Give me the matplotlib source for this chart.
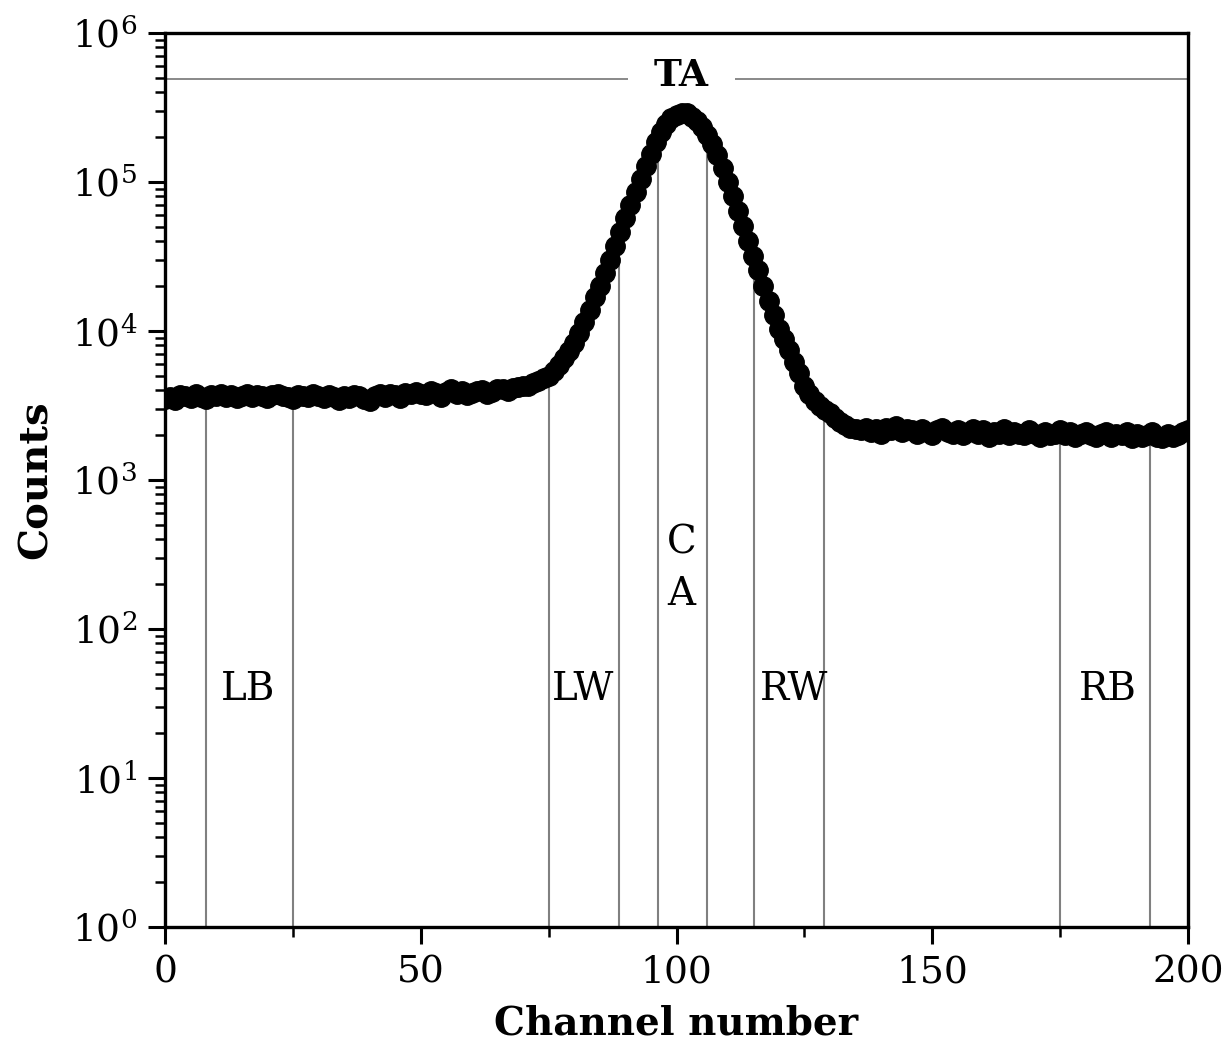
import matplotlib
matplotlib.use('Agg')
import matplotlib.pyplot as plt
from matplotlib.ticker import LogLocator, MultipleLocator
import numpy as np

# spectrum: counts per channel (0..200)
channels = np.arange(0, 201)
counts = [
    3500, 3600, 3450, 3700, 3650, 3550, 3750, 3600, 3500, 3700,
    3650, 3800, 3600, 3700, 3550, 3650, 3750, 3600, 3700, 3650,
    3550, 3700, 3800, 3650, 3600, 3500, 3700, 3650, 3600, 3750,
    3650, 3550, 3700, 3600, 3450, 3650, 3550, 3700, 3650, 3500,
    3400, 3650, 3750, 3600, 3800, 3700, 3550, 3850, 3750, 3900,
    3800, 3700, 3950, 3850, 3600, 3900, 4050, 3800, 3950, 3700,
    3850, 3950, 4000, 3800, 3900, 4050, 4100, 3950, 4150, 4200,
    4300, 4250, 4500, 4600, 4800, 5000, 5400, 5900, 6600, 7300,
    8300, 9700, 11500, 13800, 16800, 20000, 24500, 30000, 37000, 46000,
    57000, 70000, 86000, 105000, 128000, 155000, 185000, 215000, 245000, 268000,
    282000, 292000, 289000, 275000, 258000, 235000, 208000, 180000, 152000, 125000,
    100000, 80000, 64000, 51000, 40000, 32000, 25500, 20000, 16000, 12800,
    10300, 8800, 7400, 6200, 5200, 4300, 3800, 3400, 3150, 2950,
    2800, 2600, 2450, 2350, 2250, 2200,
    2150, 2250, 2100, 2200, 2050, 2250, 2150, 2300, 2100, 2200,
    2150, 2050, 2200, 2100, 2000, 2150, 2250, 2100, 2050, 2150,
    2000, 2100, 2200, 2050, 2150, 1950, 2100, 2050, 2200, 2000,
    2100, 2050, 2000, 2150, 2050, 1950, 2100, 2000, 2050, 2150,
    2000, 2100, 1950, 2050, 2100, 2000, 1950, 2050, 2100, 1950,
    2050, 2000, 2100, 1900, 2050, 1950, 2000, 2100, 1950, 1900,
    2050, 1950, 2000, 2100, 2150,
]

# window boundaries (channels)
boundaries = [8, 25, 75, 88.8, 96.3, 106, 115.2, 128.8, 175, 192.6]
ta_level = 4.9e5
ta_gap = (90.5, 111.4)

# region labels: text, x, y
labels = ['LB', 'LW', 'C', 'A', 'RW', 'RB']
label_x = [16.2, 81.7, 101, 101, 123, 184.4]
label_y = [39, 39, 380, 170, 39, 39]

plt.rcParams['font.family'] = 'DejaVu Serif'
plt.rcParams['mathtext.fontset'] = 'dejavuserif'

fig = plt.figure(figsize=(12.23, 10.51), dpi=100)
ax = fig.add_axes([0.1349, 0.118, 0.8365, 0.8506])

tops = np.interp(boundaries, channels, counts)
ax.vlines(boundaries, 1, tops, colors='#808080', linewidth=1.5, zorder=1)
ax.hlines([ta_level, ta_level], [0, ta_gap[1]], [ta_gap[0], 200],
          colors='#808080', linewidth=1.3, zorder=1)
ax.text(101, 5.2e5, 'TA', ha='center', va='center', fontsize=27,
        fontweight='bold', zorder=3)

ax.plot(channels, counts, 'o', color='black', markersize=14, zorder=2)

for t, x, y in zip(labels, label_x, label_y):
    ax.text(x, y, t, ha='center', va='center', fontsize=28)

ax.set_yscale('log')
ax.set_xlim(0, 200)
ax.set_ylim(1, 1e6)
ax.xaxis.set_major_locator(MultipleLocator(50))
ax.xaxis.set_minor_locator(MultipleLocator(25))
ax.yaxis.set_major_locator(LogLocator(base=10, numticks=10))
ax.yaxis.set_minor_locator(LogLocator(base=10, subs=np.arange(2, 10), numticks=10))

ax.tick_params(which='major', direction='out', length=12, width=2.2, labelsize=27, pad=8)
ax.tick_params(which='minor', direction='out', length=7, width=1.8)
for s in ax.spines.values():
    s.set_linewidth(2.4)

ax.set_xlabel('Channel number', fontsize=28, fontweight='bold', labelpad=10)
ax.set_ylabel('Counts', fontsize=29, fontweight='bold', labelpad=12)

fig.savefig('out.png', dpi=100)
